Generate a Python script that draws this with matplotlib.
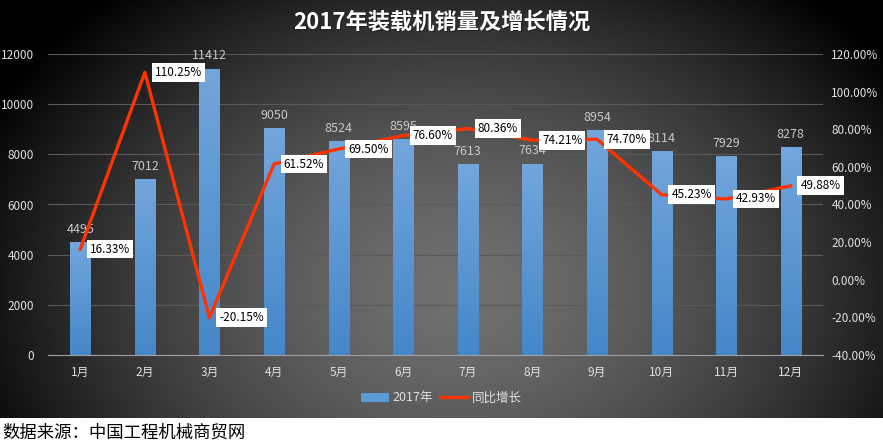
import numpy as np
import matplotlib
matplotlib.use("Agg")
from matplotlib import pyplot as plt
from matplotlib.lines import Line2D
from matplotlib.patches import Patch

plt.rcParams['font.family'] = ['Noto Sans CJK SC', 'DejaVu Sans']

months = ['1月', '2月', '3月', '4月', '5月', '6月', '7月', '8月', '9月', '10月', '11月', '12月']
sales = [4495, 7012, 11412, 9050, 8524, 8595, 7613, 7634, 8954, 8114, 7929, 8278]
growth = [16.33, 110.25, -20.15, 61.52, 69.50, 76.60, 80.36, 74.21, 74.70, 45.23, 42.93, 49.88]
left_ticks = [0, 2000, 4000, 6000, 8000, 10000, 12000]
right_ticks = [-40, -20, 0, 20, 40, 60, 80, 100, 120]

W, H = 883, 448
fig = plt.figure(figsize=(W / 100, H / 100), dpi=100, facecolor='white')

# dark radial background of the chart area (footer strip stays white)
bg = fig.add_axes([0, 30 / H, 1, 418 / H], zorder=-5)
yy, xx = np.mgrid[0:1:300j, 0:1:600j]
r = np.sqrt(((xx - 0.52) / 0.6) ** 2 + ((yy - 0.7) / 0.95) ** 2)
v = np.clip(0.44 * (1 - r ** 1.5), 0, 1)
bg.imshow(np.dstack([v, v, v]), extent=[0, 1, 0, 1], aspect='auto', origin='upper')
bg.axis('off')

ax = fig.add_axes([48 / W, 1 - 355 / H, 775 / W, 301 / H])
ax.set_facecolor('none')
x = np.arange(len(months))

bars = ax.bar(x, sales, width=0.31, color='#5b9bd5', zorder=2)
# vertical gradient inside each bar
grad = np.linspace(0, 1, 100).reshape(-1, 1)
top = np.array([0.45, 0.65, 0.86])
bot = np.array([0.27, 0.53, 0.79])
gimg = (top[None, None, :] * (1 - grad[:, :, None]) + bot[None, None, :] * grad[:, :, None])
for b in bars:
    b.set_facecolor('none')
    im = ax.imshow(gimg, extent=[b.get_x(), b.get_x() + b.get_width(), 0, b.get_height()],
                   aspect='auto', origin='upper', zorder=2)
    im.set_clip_path(b)

for xi, s in zip(x, sales):
    ax.text(xi, s + 250, str(s), ha='center', va='bottom', color='#c8c8c8', fontsize=9, zorder=3)

ax.set_xlim(-0.5, len(months) - 0.5)
ax.set_ylim(0, 12000)
ax.set_yticks(left_ticks)
ax.set_xticks(x)
ax.set_xticklabels(months)
ax.grid(axis='y', color='#5a5a5a', linewidth=0.8)
ax.set_axisbelow(True)
for sp in ['top', 'left', 'right']:
    ax.spines[sp].set_visible(False)
ax.spines['bottom'].set_color('#a0a0a0')
ax.tick_params(axis='both', length=0, colors='#e0e0e0', labelsize=8.5)
ax.tick_params(axis='x', pad=8)
ax.tick_params(axis='y', pad=10)

ax2 = ax.twinx()
ax2.set_ylim(-40, 120)
ax2.set_yticks(right_ticks)
ax2.set_yticklabels(['%.2f%%' % t for t in right_ticks])
ax2.tick_params(axis='y', length=0, colors='#e0e0e0', labelsize=8.5, pad=6)
for sp in ax2.spines.values():
    sp.set_visible(False)
ax2.plot(x, growth, color='#ff3300', linewidth=2.4, zorder=4, solid_joinstyle='round')
for xi, g in zip(x, growth):
    ax2.annotate('%.2f%%' % g, (xi, g), xytext=(7, 0), textcoords='offset points',
                 ha='left', va='center', fontsize=8.5, color='black', zorder=6,
                 bbox=dict(boxstyle='square,pad=0.25', fc='white', ec='none'))

title = '2017年装载机销量及增长情况'
fig.text(0.5 + 1 / W, 1 - 23 / H, title, ha='center', va='center',
         fontsize=16, fontweight='bold', color='#202020')
fig.text(0.5, 1 - 22 / H, title, ha='center', va='center',
         fontsize=16, fontweight='bold', color='white')

handles = [Patch(facecolor='#5b9bd5', edgecolor='none'),
           Line2D([0], [0], color='#ff3300', linewidth=2.4)]
leg = fig.legend(handles, ['2017年', '同比增长'], loc='center', ncol=2,
                 bbox_to_anchor=(0.5, 1 - 398 / H), frameon=False, fontsize=9,
                 handlelength=2.2, handletextpad=0.3, columnspacing=0.6, labelcolor='#e0e0e0')

fig.text(2 / W, 1 - 433 / H, '数据来源：中国工程机械商贸网', ha='left', va='center',
         fontsize=12.5, color='black')

fig.savefig('out.png', dpi=100, facecolor='white')
